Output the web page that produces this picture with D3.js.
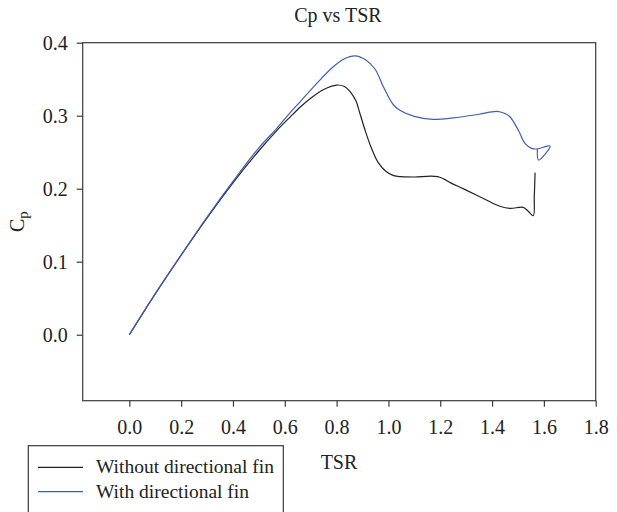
<!DOCTYPE html>
<html>
<head>
<meta charset="utf-8">
<script src="https://cdn.jsdelivr.net/npm/d3@7"></script>
<style>
  html, body { margin: 0; padding: 0; background: #fff; }
  svg { display: block; }
  text { font-family: "Liberation Serif", "Times New Roman", serif; fill: #222; }
</style>
</head>
<body>
<svg id="chart" width="617" height="512"></svg>
<script>
// ---- data ----
const title = "Cp vs TSR";
const xLabel = "TSR";
const seriesNames = ["Without directional fin", "With directional fin"];
const seriesColors = ["#222222", "#3d5fb3"];

const xTicks = [0.0, 0.2, 0.4, 0.6, 0.8, 1.0, 1.2, 1.4, 1.6, 1.8];
const yTicks = [0.0, 0.1, 0.2, 0.3, 0.4];

const tsrWithout = [0.0, 0.1, 0.2, 0.3, 0.4, 0.5, 0.57, 0.62, 0.66, 0.7, 0.75, 0.8, 0.83, 0.852, 0.875, 0.89, 0.91, 0.935, 0.96, 0.99, 1.02, 1.05, 1.1, 1.19, 1.25, 1.3, 1.37, 1.43, 1.47, 1.52, 1.54, 1.559, 1.563, 1.566];
const cpWithout  = [0.0, 0.056, 0.109, 0.16, 0.208, 0.252, 0.28, 0.298, 0.312, 0.324, 0.336, 0.342, 0.34, 0.333, 0.32, 0.303, 0.28, 0.255, 0.236, 0.224, 0.218, 0.2165, 0.216, 0.2165, 0.2063, 0.198, 0.186, 0.176, 0.173, 0.1745, 0.169, 0.163, 0.19, 0.222];

const tsrWith = [0.0, 0.1, 0.2, 0.3, 0.4, 0.5, 0.57, 0.62, 0.659, 0.72, 0.787, 0.83, 0.871, 0.91, 0.948, 0.98, 1.019, 1.044, 1.1, 1.17, 1.25, 1.35, 1.418, 1.45, 1.469, 1.501, 1.527, 1.553, 1.572, 1.624, 1.579, 1.575];
const cpWith  = [0.0, 0.056, 0.109, 0.161, 0.21, 0.256, 0.283, 0.304, 0.319, 0.343, 0.367, 0.378, 0.382, 0.377, 0.364, 0.34, 0.315, 0.3075, 0.299, 0.295, 0.297, 0.302, 0.306, 0.303, 0.2986, 0.2804, 0.2622, 0.2553, 0.2544, 0.2585, 0.2393, 0.254];

// ---- layout ----
const svg = d3.select("#chart");
const plotLeft = 82.7, plotRight = 595.7, plotTop = 42.7, plotBottom = 400.7;

const x = d3.scaleLinear().domain([-0.18, 1.8]).range([plotLeft, plotRight]);
const y = d3.scaleLinear().domain([-0.0904, 0.4]).range([plotBottom, plotTop]);

// frame
svg.append("rect")
  .attr("x", plotLeft).attr("y", plotTop)
  .attr("width", plotRight - plotLeft).attr("height", plotBottom - plotTop)
  .attr("fill", "none").attr("stroke", "#3a3a3a").attr("stroke-width", 1.2);

// axes
const fontSize = 20;
const xAxis = svg.append("g")
  .attr("transform", `translate(0,${plotBottom})`)
  .call(d3.axisBottom(x).tickValues(xTicks).tickFormat(d3.format(".1f")).tickSize(6).tickPadding(13));
const yAxis = svg.append("g")
  .attr("transform", `translate(${plotLeft},0)`)
  .call(d3.axisLeft(y).tickValues(yTicks).tickFormat(d3.format(".1f")).tickSize(6).tickPadding(9));

[xAxis, yAxis].forEach(g => {
  g.select(".domain").remove();
  g.selectAll(".tick line").attr("stroke", "#3a3a3a").attr("stroke-width", 1.2);
  g.selectAll(".tick text")
    .style("font-family", '"Liberation Serif", "Times New Roman", serif')
    .style("font-size", fontSize + "px").attr("fill", "#222");
});

// lines
const line = d3.line()
  .x(d => x(d[0])).y(d => y(d[1]))
  .curve(d3.curveCatmullRom.alpha(0.5));

const series = [
  d3.zip(tsrWithout, cpWithout),
  d3.zip(tsrWith, cpWith)
];
series.forEach((pts, i) => {
  svg.append("path")
    .datum(pts)
    .attr("d", line)
    .attr("fill", "none")
    .attr("stroke", seriesColors[i])
    .attr("stroke-width", 1.2);
});

// title
svg.append("text")
  .attr("x", 338).attr("y", 22)
  .attr("text-anchor", "middle")
  .style("font-size", fontSize + "px")
  .text(title);

// x label
svg.append("text")
  .attr("x", 339).attr("y", 469)
  .attr("text-anchor", "middle")
  .style("font-size", fontSize + "px")
  .text(xLabel);

// y label (C with subscript p), rotated
const yl = svg.append("text")
  .attr("transform", `translate(24,${(plotTop + plotBottom) / 2}) rotate(-90)`)
  .attr("text-anchor", "middle")
  .style("font-size", fontSize + "px");
yl.append("tspan").text("C");
yl.append("tspan").attr("dy", 4).style("font-size", "15px").text("p");

// legend
const legend = svg.append("g");
legend.append("rect")
  .attr("x", 28.3).attr("y", 445.7)
  .attr("width", 255).attr("height", 90)
  .attr("fill", "#fff").attr("stroke", "#3a3a3a").attr("stroke-width", 1.2);
const legendY = [467.3, 491.7];
seriesNames.forEach((name, i) => {
  legend.append("line")
    .attr("x1", 38).attr("x2", 83)
    .attr("y1", legendY[i]).attr("y2", legendY[i])
    .attr("stroke", seriesColors[i]).attr("stroke-width", 1.2);
  legend.append("text")
    .attr("x", 96).attr("y", legendY[i] + 6)
    .style("font-size", "19.5px")
    .text(name);
});
</script>
</body>
</html>
